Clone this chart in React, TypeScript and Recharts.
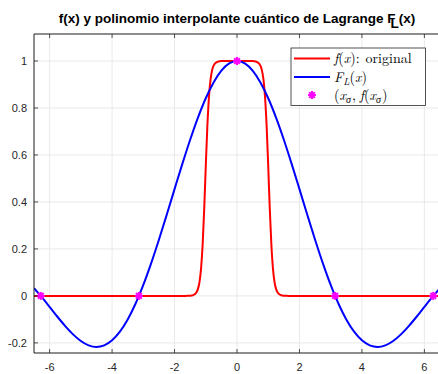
import { ComposedChart, Line, Scatter, XAxis, YAxis, CartesianGrid, ReferenceLine } from 'recharts';

// f(x): flat-topped pulse around the origin
const pulseX = [-6.5, -2, -1.6, -1.5, -1.4, -1.3, -1.25, -1.2, -1.15, -1.1, -1.05, -1.0, -0.95, -0.9, -0.85, -0.8, -0.75, -0.7, -0.6, -0.5, 0,
  0.5, 0.6, 0.7, 0.75, 0.8, 0.85, 0.9, 0.95, 1.0, 1.05, 1.1, 1.15, 1.2, 1.25, 1.3, 1.4, 1.5, 1.6, 2, 6.5];
const pulseY = [0, 0, 0.0002, 0.0008, 0.0033, 0.0144, 0.03, 0.06, 0.118, 0.219, 0.37, 0.552, 0.72, 0.843, 0.919, 0.959, 0.98, 0.99, 0.998, 1, 1,
  1, 0.998, 0.99, 0.98, 0.959, 0.919, 0.843, 0.72, 0.552, 0.37, 0.219, 0.118, 0.06, 0.03, 0.0144, 0.0033, 0.0008, 0.0002, 0, 0];

// F_L(x): interpolant through the nodes
const interpX = [-6.5, -6.2832, -6, -5.75, -5.5, -5.25, -5, -4.75, -4.5, -4.25, -4, -3.75, -3.5, -3.25, -3.1416, -3, -2.75, -2.5, -2.25, -2, -1.75, -1.5, -1.25, -1, -0.75, -0.5, -0.25, 0,
  0.25, 0.5, 0.75, 1, 1.25, 1.5, 1.75, 2, 2.25, 2.5, 2.75, 3, 3.1416, 3.25, 3.5, 3.75, 4, 4.25, 4.5, 4.75, 5, 5.25, 5.5, 5.75, 6, 6.2832, 6.5];
const interpY = [0.0331, 0, -0.0466, -0.0887, -0.1283, -0.1636, -0.1918, -0.2104, -0.2172, -0.2106, -0.1892, -0.1524, -0.1002, -0.0333, 0, 0.047, 0.1388, 0.2394, 0.3458, 0.4546, 0.5623, 0.665, 0.7592, 0.8415, 0.9089, 0.9589, 0.9896, 1,
  0.9896, 0.9589, 0.9089, 0.8415, 0.7592, 0.665, 0.5623, 0.4546, 0.3458, 0.2394, 0.1388, 0.047, 0, -0.0333, -0.1002, -0.1524, -0.1892, -0.2106, -0.2172, -0.2104, -0.1918, -0.1636, -0.1283, -0.0887, -0.0466, 0, 0.0331];

// interpolation nodes (x_sigma, f(x_sigma))
const nodeX = [-6.2832, -3.1416, 0, 3.1416, 6.2832];
const nodeY = [0, 0, 1, 0, 0];

const xTicks = [-6, -4, -2, 0, 2, 4, 6];
const yTicks = [-0.2, 0, 0.2, 0.4, 0.6, 0.8, 1];
const Y_MIN = -0.243;
const Y_MAX = 1.115;

const AXIS = '#262626';
const GRID = '#e3e3e3';
const SANS = '"Liberation Sans", Helvetica, Arial, sans-serif';
const SERIF = '"Latin Modern Roman", "Liberation Serif", "DejaVu Serif", serif';

const pulseData = pulseX.map((x, i) => ({ x, y: pulseY[i] }));
const interpData = interpX.map((x, i) => ({ x, y: interpY[i] }));
const nodeData = nodeX.map((x, i) => ({ x, y: nodeY[i] }));

const Asterisk = ({ cx, cy }: any) => {
  const r = 4;
  const d = r * 0.71;
  return (
    <g stroke="#ff00ff" strokeWidth={2}>
      <line x1={cx - r} y1={cy} x2={cx + r} y2={cy} />
      <line x1={cx} y1={cy - r} x2={cx} y2={cy + r} />
      <line x1={cx - d} y1={cy - d} x2={cx + d} y2={cy + d} />
      <line x1={cx - d} y1={cy + d} x2={cx + d} y2={cy - d} />
    </g>
  );
};

const BottomTick = ({ x, y, payload }: any) => (
  <g>
    <line x1={x} y1={y} x2={x} y2={y - 4} stroke={AXIS} strokeWidth={0.8} />
    <text x={x} y={y + 18} textAnchor="middle" fill={AXIS} fontSize={11} fontFamily={SANS}>
      {payload.value}
    </text>
  </g>
);

const LeftTick = ({ x, y, payload }: any) => (
  <g>
    <line x1={x} y1={y} x2={x + 4} y2={y} stroke={AXIS} strokeWidth={0.8} />
    <text x={x - 7} y={y + 4} textAnchor="end" fill={AXIS} fontSize={11} fontFamily={SANS}>
      {payload.value}
    </text>
  </g>
);

// top box edge with inward tick marks
const TopEdge = ({ viewBox }: any) => {
  const { x, y, width } = viewBox;
  return <line x1={x} y1={y} x2={x + width} y2={y} stroke={AXIS} strokeWidth={1} />;
};

const TopTickMark = ({ viewBox }: any) => {
  const { x, y } = viewBox;
  return <line x1={x} y1={y} x2={x} y2={y + 4} stroke={AXIS} strokeWidth={0.8} />;
};

export default function App() {
  return (
    <div style={{ position: 'absolute', left: 0, top: 0, width: 438, height: 374, overflow: 'hidden', background: '#fff' }}>
      <ComposedChart width={442} height={374} margin={{ top: 34, right: 2, bottom: 0, left: 0 }}>
        <CartesianGrid stroke={GRID} strokeWidth={0.8} />
        <XAxis
          dataKey="x"
          type="number"
          domain={[-6.5, 6.5]}
          allowDataOverflow
          ticks={xTicks}
          height={21}
          tickSize={0}
          tickMargin={0}
          tickLine={false}
          axisLine={{ stroke: AXIS, strokeWidth: 1 }}
          tick={<BottomTick />}
        />
        <YAxis
          dataKey="y"
          type="number"
          domain={[Y_MIN, Y_MAX]}
          allowDataOverflow
          ticks={yTicks}
          width={34}
          tickSize={0}
          tickMargin={0}
          tickLine={false}
          axisLine={{ stroke: AXIS, strokeWidth: 1 }}
          tick={<LeftTick />}
        />
        <ReferenceLine y={Y_MAX} stroke="none" label={<TopEdge />} />
        {xTicks.map((t) => (
          <ReferenceLine key={t} x={t} stroke="none" label={<TopTickMark />} />
        ))}
        <Line data={pulseData} dataKey="y" type="monotone" stroke="#ff0000" strokeWidth={2} dot={false} isAnimationActive={false} />
        <Line data={interpData} dataKey="y" type="monotone" stroke="#0000ff" strokeWidth={2} dot={false} isAnimationActive={false} />
        <Scatter data={nodeData} dataKey="y" shape={<Asterisk />} isAnimationActive={false} />
      </ComposedChart>

      <svg width={438} height={374} style={{ position: 'absolute', left: 0, top: 0, pointerEvents: 'none' }}>
        <text x={237} y={23} textAnchor="middle" fontFamily={SANS} fontWeight="bold" fontSize={13.5} fill="#000">
          f(x) y polinomio interpolante cuántico de Lagrange F
          <tspan dx={-5} dy={5}>L</tspan>
          <tspan dy={-5}>(x)</tspan>
        </text>

        <rect x={291} y={48} width={134.5} height={57.5} fill="#fff" stroke={AXIS} strokeWidth={0.8} />
        <line x1={294} y1={58.5} x2={330} y2={58.5} stroke="#ff0000" strokeWidth={2} />
        <line x1={294} y1={77} x2={330} y2={77} stroke="#0000ff" strokeWidth={2} />
        <Asterisk cx={312} cy={95} />
        <g fontFamily={SERIF} fontSize={14} fill="#000">
          <text x={334} y={63}>
            <tspan fontStyle="italic">f</tspan>(<tspan fontStyle="italic">x</tspan>):<tspan dx={6}>original</tspan>
          </text>
          <text x={334} y={82}>
            <tspan fontStyle="italic">F</tspan><tspan fontStyle="italic" fontSize={10} dy={3}>L</tspan><tspan dy={-3}>(</tspan><tspan fontStyle="italic">x</tspan>)
          </text>
          <text x={334} y={100}>
            (<tspan fontStyle="italic">x</tspan><tspan fontStyle="italic" fontSize={10} dy={3}>σ</tspan><tspan dy={-3} dx={1}>,</tspan><tspan dx={4} fontStyle="italic">f</tspan>(<tspan fontStyle="italic">x</tspan><tspan fontStyle="italic" fontSize={10} dy={3}>σ</tspan><tspan dy={-3} dx={1}>)</tspan>
          </text>
        </g>
      </svg>
    </div>
  );
}
